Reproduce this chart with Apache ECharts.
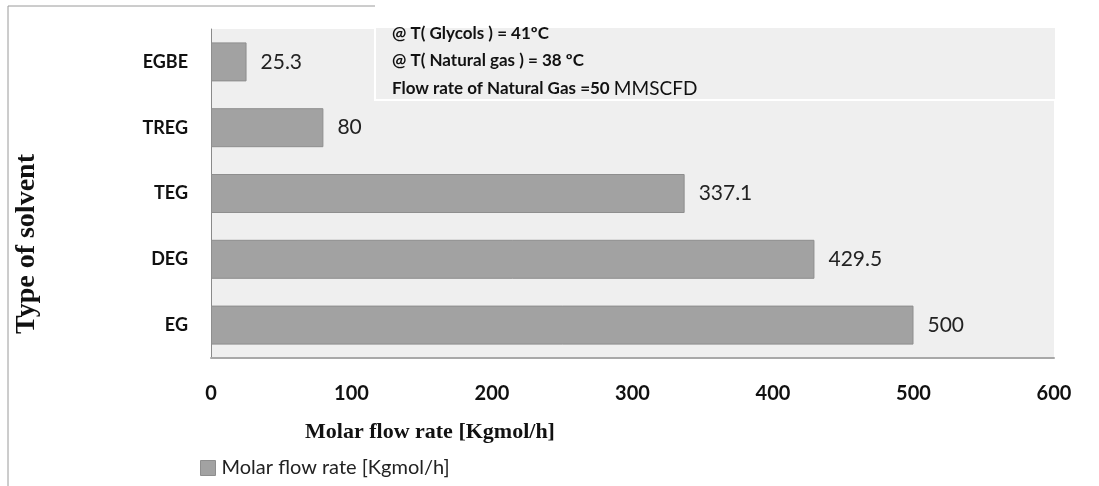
<!DOCTYPE html>
<html>
<head>
<meta charset="utf-8">
<script src="https://cdn.jsdelivr.net/npm/echarts@6/dist/echarts.min.js"></script>
<style>
  html, body { margin: 0; padding: 0; background: #fff; }
  #chart { width: 1099px; height: 486px; }
</style>
</head>
<body>
<div id="chart"></div>
<script>
const solvents = ['EG', 'DEG', 'TEG', 'TREG', 'EGBE']
const molarFlow = [500, 429.5, 337.1, 80, 25.3]
const xTicks = [0, 100, 200, 300, 400, 500, 600]
const seriesName = 'Molar flow rate [Kgmol/h]'
const notes = ['@ T( Glycols ) = 41ºC', '@ T( Natural gas ) = 38 ºC']

const sans = 'Lato, "Open Sans", sans-serif'
const serif = '"Liberation Serif", "Times New Roman", serif'

const myChart = echarts.init(document.getElementById('chart'), null, { renderer: 'canvas' })

let option = {
	animation: false,
	backgroundColor: '#fff',
	grid: {
		left: 211,
		right: 45,
		top: 29,
		bottom: 128,
		show: true,
		backgroundColor: '#efefef',
		borderWidth: 0,
	},
	legend: {
		left: 195,
		top: 453,
		itemWidth: 15,
		itemHeight: 15,
		itemGap: 4,
		icon: 'rect',
		itemStyle: { color: '#a2a2a2', borderColor: '#8e8e8e', borderWidth: 1 },
		textStyle: { fontFamily: sans, fontSize: 20, color: '#222', padding: [0, 0, 0, 1] },
		data: [seriesName],
	},
	xAxis: {
		type: 'value',
		min: xTicks[0],
		max: xTicks[xTicks.length - 1],
		interval: 100,
		axisLine: { show: true, lineStyle: { color: '#a8a8a8', width: 2 } },
		axisTick: { show: false },
		splitLine: { show: false },
		axisLabel: { fontFamily: sans, fontSize: 20, fontWeight: 'bold', color: '#111', margin: 26 },
	},
	yAxis: {
		type: 'category',
		data: solvents,
		axisLine: { show: true, lineStyle: { color: '#8a8a8a', width: 1 } },
		axisTick: { show: false },
		axisLabel: { fontFamily: sans, fontSize: 18, fontWeight: 'bold', color: '#111', margin: 23 },
	},
	series: [
		{
			name: seriesName,
			type: 'bar',
			data: molarFlow,
			barWidth: 39,
			itemStyle: { color: '#a2a2a2', borderColor: '#8e8e8e', borderWidth: 1 },
			label: {
				show: true,
				position: 'right',
				distance: 14,
				fontFamily: sans,
				fontSize: 21,
				color: '#222',
			},
		},
	],
	graphic: [
		{ type: 'line', shape: { x1: 8, y1: 6, x2: 375, y2: 6 }, style: { stroke: '#9a9a9a', lineWidth: 1 } },
		{ type: 'line', shape: { x1: 8, y1: 6, x2: 8, y2: 486 }, style: { stroke: '#9a9a9a', lineWidth: 1 } },
		{
			type: 'rect',
			shape: { x: 375, y: 27, width: 681, height: 73 },
			style: { fill: '#efefef', stroke: '#fff', lineWidth: 2 },
			z: 10,
		},
		{
			type: 'text',
			x: 392,
			y: 34,
			z: 11,
			style: { text: notes[0], font: 'bold 17px ' + sans, fill: '#111', textVerticalAlign: 'middle' },
		},
		{
			type: 'text',
			x: 392,
			y: 61,
			z: 11,
			style: { text: notes[1], font: 'bold 17px ' + sans, fill: '#111', textVerticalAlign: 'middle' },
		},
		{
			type: 'text',
			x: 392,
			y: 89,
			z: 11,
			style: {
				text: '{a|Flow rate of Natural Gas =50 }{b|MMSCFD}',
				textVerticalAlign: 'middle',
				rich: {
					a: { fontFamily: sans, fontSize: 17, fontWeight: 'bold', fill: '#111' },
					b: { fontFamily: sans, fontSize: 19, fill: '#111' },
				},
			},
		},
		{
			type: 'text',
			x: 27,
			y: 244,
			rotation: Math.PI / 2,
			style: {
				text: 'Type of solvent',
				font: 'bold 28px ' + serif,
				fill: '#111',
				textAlign: 'center',
				textVerticalAlign: 'middle',
			},
		},
		{
			type: 'text',
			x: 430,
			y: 432,
			style: {
				text: 'Molar flow rate [Kgmol/h]',
				font: 'bold 22px ' + serif,
				fill: '#111',
				textAlign: 'center',
				textVerticalAlign: 'middle',
			},
		},
	],
}
myChart.setOption(option)

window.addEventListener('resize', () => {
	myChart.resize()
})
</script>
</body>
</html>
